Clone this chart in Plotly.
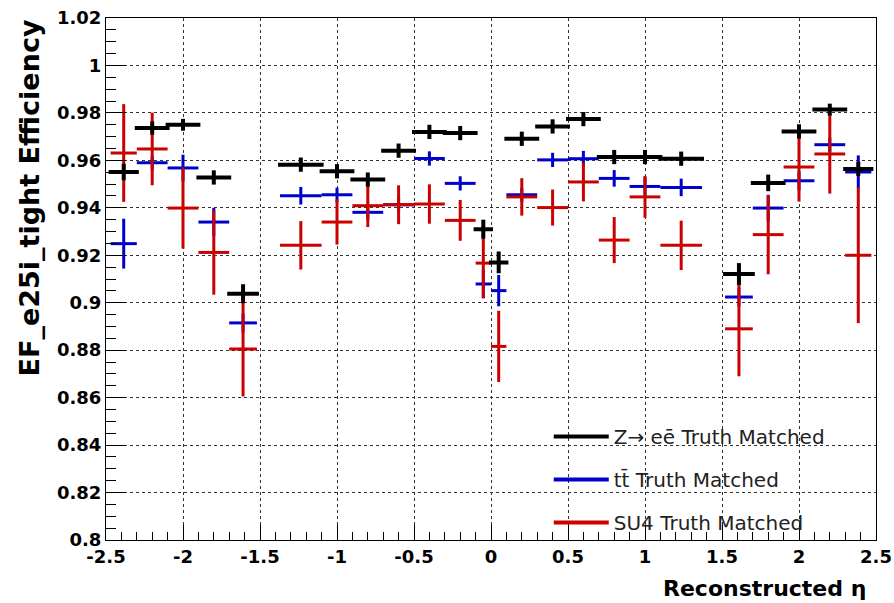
import plotly.graph_objects as go

# ---- data ----
bin_lo = [-2.47, -2.3, -2.1, -1.9, -1.7, -1.37, -1.1, -0.9, -0.7, -0.5, -0.3, -0.1,
          0.0, 0.1, 0.3, 0.5, 0.7, 0.9, 1.1, 1.52, 1.7, 1.9, 2.1, 2.3]
bin_hi = [-2.3, -2.1, -1.9, -1.7, -1.52, -1.1, -0.9, -0.7, -0.5, -0.3, -0.1, 0.0,
          0.1, 0.3, 0.5, 0.7, 0.9, 1.1, 1.37, 1.7, 1.9, 2.1, 2.3, 2.47]

zee_eff = [0.9551, 0.9736, 0.9750, 0.9528, 0.9038, 0.9582, 0.9554, 0.9519, 0.9641, 0.9720,
           0.9715, 0.9310, 0.9170, 0.9691, 0.9743, 0.9774, 0.9614, 0.9614, 0.9607, 0.9121,
           0.9505, 0.9722, 0.9814, 0.9564]
zee_err = [0.0035, 0.0028, 0.0025, 0.0030, 0.0040, 0.0030, 0.0030, 0.0030, 0.0030, 0.0030,
           0.0030, 0.0040, 0.0046, 0.0030, 0.0030, 0.0030, 0.0030, 0.0030, 0.0030, 0.0046,
           0.0035, 0.0030, 0.0025, 0.0030]

ttbar_eff = [0.9249, 0.9590, 0.9568, 0.9340, 0.8915, 0.9451, 0.9455, 0.9381, 0.9413, 0.9608,
             0.9503, 0.9079, 0.9051, 0.9455, 0.9602, 0.9607, 0.9524, 0.9490, 0.9486, 0.9024,
             0.9399, 0.9514, 0.9666, 0.9551]
ttbar_err = [0.0105, 0.0030, 0.0056, 0.0060, 0.0040, 0.0037, 0.0030, 0.0030, 0.0030, 0.0030,
             0.0030, 0.0060, 0.0066, 0.0030, 0.0030, 0.0033, 0.0035, 0.0040, 0.0037, 0.0040,
             0.0056, 0.0040, 0.0030, 0.0070]

su4_eff = [0.9631, 0.9648, 0.9399, 0.9212, 0.8805, 0.9242, 0.9340, 0.9409, 0.9413, 0.9416,
           0.9347, 0.9167, 0.8816, 0.9446, 0.9401, 0.9509, 0.9264, 0.9446, 0.9242, 0.8890,
           0.9287, 0.9572, 0.9627, 0.9200]
su4_err = [0.0206, 0.0153, 0.0171, 0.0178, 0.0200, 0.0102, 0.0095, 0.0090, 0.0082, 0.0083,
           0.0086, 0.0148, 0.0150, 0.0079, 0.0076, 0.0082, 0.0097, 0.0088, 0.0104, 0.0200,
           0.0167, 0.0146, 0.0167, 0.0286]

x_tickvals = [-2.5, -2.0, -1.5, -1.0, -0.5, 0.0, 0.5, 1.0, 1.5, 2.0, 2.5]
x_ticktext = ["-2.5", "-2", "-1.5", "-1", "-0.5", "0", "0.5", "1", "1.5", "2", "2.5"]
y_tickvals = [0.8, 0.82, 0.84, 0.86, 0.88, 0.9, 0.92, 0.94, 0.96, 0.98, 1.0, 1.02]
y_ticktext = ["0.8", "0.82", "0.84", "0.86", "0.88", "0.9", "0.92", "0.94", "0.96",
              "0.98", "1", "1.02"]

series_names = ["Z\u2192 e\u0113 Truth Matched", "tt\u0304 Truth Matched", "SU4 Truth Matched"]
x_title = "Reconstructed \u03b7"
y_title = "EF_e25i_tight Efficiency"

# ---- derived ----
centers = [(a + b) / 2 for a, b in zip(bin_lo, bin_hi)]
halfw = [(b - a) / 2 for a, b in zip(bin_lo, bin_hi)]

BLACK = "#000000"
BLUE = "#0000cc"
RED = "#cc0000"

fig = go.Figure()


def add_series(y, err, color, thick, cap):
    fig.add_trace(go.Scatter(
        x=centers, y=y, mode="markers",
        marker=dict(size=1, color=color),
        error_x=dict(type="data", array=halfw, visible=True, color=color,
                     thickness=thick, width=cap),
        error_y=dict(type="data", array=err, visible=True, color=color,
                     thickness=thick, width=0),
        showlegend=False, hoverinfo="skip",
    ))


add_series(ttbar_eff, ttbar_err, BLUE, 3, 0)
add_series(su4_eff, su4_err, RED, 3, 0)
add_series(zee_eff, zee_err, BLACK, 4, 2)

# legend entries (line samples)
for i, (name, col) in enumerate(zip(series_names, [BLACK, BLUE, RED])):
    fig.add_trace(go.Scatter(x=[None], y=[None], mode="lines", name=name,
                             line=dict(color=col, width=4), legendgroup=str(i)))

axis_common = dict(
    showline=True, linecolor="black", linewidth=1, mirror=True,
    ticks="inside", tickcolor="black", tickwidth=1,
    showgrid=True, gridcolor="#333333", gridwidth=1, griddash="dot",
    zeroline=False, automargin=False,
    tickfont=dict(family="DejaVu Sans", size=18, color="black", weight="bold"),
)

fig.update_xaxes(range=[-2.5, 2.5], tickvals=x_tickvals, ticktext=x_ticktext, ticklen=15,
                 minor=dict(dtick=0.1, tick0=-2.5, ticklen=8, ticks="inside",
                            tickcolor="black", showgrid=False),
                 **axis_common)
fig.update_yaxes(range=[0.8, 1.02], tickvals=y_tickvals, ticktext=y_ticktext, ticklen=20,
                 minor=dict(dtick=0.005, tick0=0.8, ticklen=10, ticks="inside",
                            tickcolor="black", showgrid=False),
                 **axis_common)

fig.add_annotation(text=x_title, xref="paper", yref="paper", x=0.99, y=-0.093,
                   xanchor="right", yanchor="middle", showarrow=False,
                   font=dict(family="DejaVu Sans", size=22, color="black", weight="bold"))
fig.add_annotation(text=y_title, xref="paper", yref="paper", x=-0.1, y=1.0,
                   xanchor="center", yanchor="top", textangle=-90, showarrow=False,
                   font=dict(family="DejaVu Sans", size=27, color="black", weight="bold"))

fig.update_layout(
    width=894, height=603,
    margin=dict(l=106, r=18, t=18, b=63, autoexpand=False),
    paper_bgcolor="white", plot_bgcolor="white",
    legend=dict(x=0.575, y=-0.004, xanchor="left", yanchor="bottom",
                bgcolor="rgba(0,0,0,0)", borderwidth=0,
                font=dict(family="DejaVu Sans", size=20, color="#222222"),
                traceorder="grouped", tracegroupgap=14, itemwidth=55),
    showlegend=True,
)

fig.write_html("out.html", config={"displayModeBar": False},
               post_script="document.body.style.margin='0';"
                           "document.body.style.overflow='hidden';")
